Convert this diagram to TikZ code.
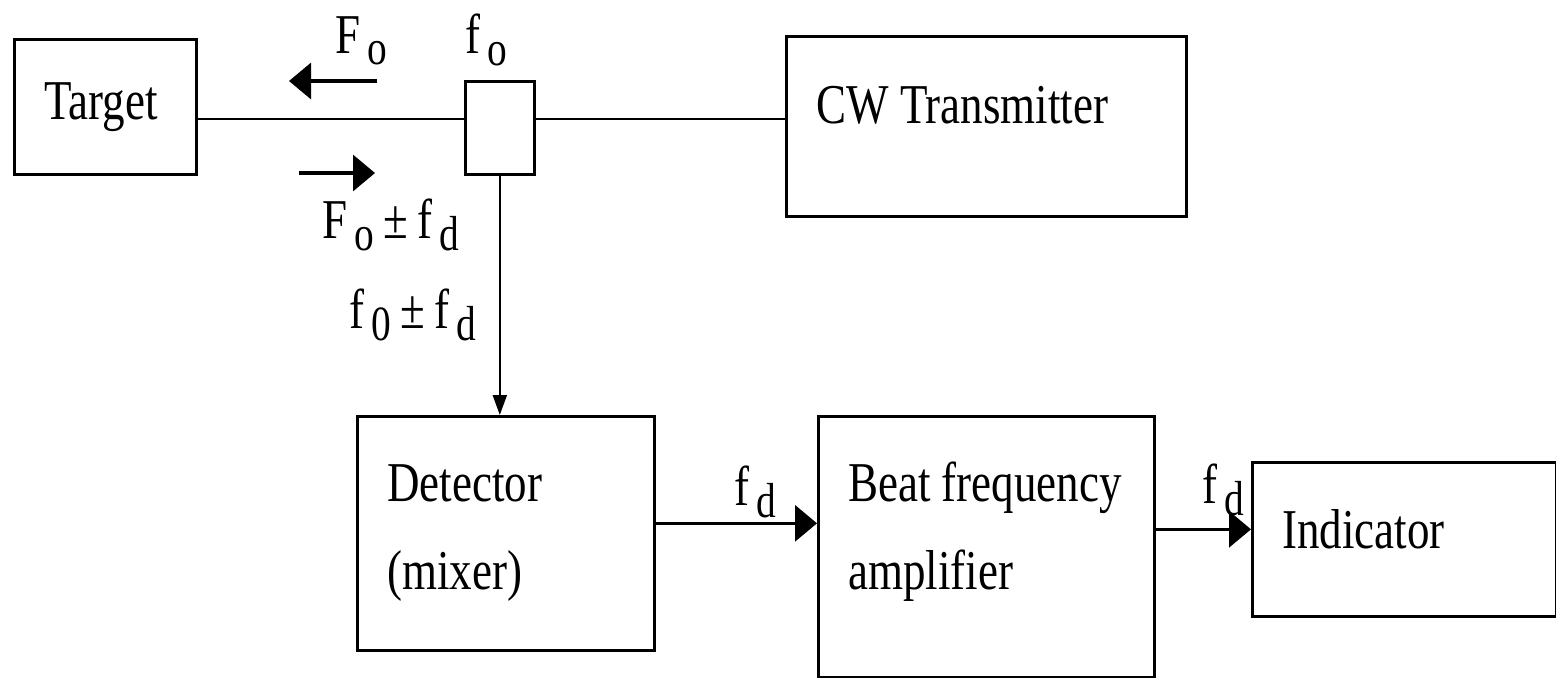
\documentclass[tikz,border=0pt]{standalone}
\usepackage{fontspec}
\setmainfont{Liberation Serif}[FakeStretch=0.8]
\usetikzlibrary{arrows.meta,positioning,calc}
\newcommand{\lowsub}[1]{\hspace{0.12em}\raisebox{-0.45ex}{\fontsize{14}{14}\selectfont #1}}

\begin{document}
\begin{tikzpicture}[
			box/.style={
				draw,
				line width=0.75pt,
				anchor=north west,
				inner xsep=0.3cm,
				align=flush left,
				font=\fontsize{16}{25}\selectfont
			},
			lbl/.style={font=\fontsize{16}{20}\selectfont,inner sep=0pt},
			wire/.style={line width=0.6pt},
			arr/.style={-{Triangle[length=2mm,width=1.4mm]},line width=0.6pt},
			sig/.style={-{Triangle[length=2.2mm,width=3.6mm]},line width=0.9pt}
			]
			\useasboundingbox (0,0) rectangle (15.56,6.77);
			\node[box,minimum height=1.35cm,text width=1.22cm](target) at (0.13,6.39){Target};
			\node[draw,line width=0.75pt,anchor=north west,minimum width=0.69cm,minimum height=0.93cm,inner sep=0pt](coupler) at (4.64,5.97){};
			\node[box,minimum height=1.8cm,text width=3.4cm,text height=0.4cm,text depth=0.46cm](cw) at (7.85,6.42){CW Transmitter};
			\node[box,minimum height=2.34cm,text width=2.37cm](det) at (3.56,2.62){Detector\\(mixer)};
			\node[box,minimum height=2.61cm,text width=2.76cm,text height=0.4cm,text depth=1.31cm](beat) at (8.17,2.62){Beat frequency\\amplifier};
			\node[box,minimum height=1.54cm,text width=2.44cm,text height=0.4cm,text depth=0.22cm](ind) at (12.51,2.16){Indicator};
			% transmission line
			\coordinate (bus) at (0,5.58);
			\draw[wire](target.east|-bus)--(coupler.west|-bus);
			\draw[wire](coupler.east|-bus)--(cw.west|-bus);
			\draw[arr](coupler.south)--(coupler.south|-det.north);
			% outgoing and returning signal
			\coordinate (outA) at (3.77,5.96);
			\coordinate (outB) at (2.89,5.96);
			\coordinate (retA) at (2.99,5.04);
			\coordinate (retB) at (3.75,5.04);
			\draw[sig](outA)--(outB);
			\draw[sig](retA)--(retB);
			\node[lbl](Fo) at (3.61,6.36){F\lowsub{o}};
			\node[lbl](fo) at (4.86,6.37){f\lowsub{o}};
			\node[lbl](Fofd) at (3.91,4.52){F\lowsub{o}\,±\,f\lowsub{d}};
			\node[lbl](fofd) at (4.13,3.62){f\lowsub{0}\,±\,f\lowsub{d}};
			% beat signal
			\draw[sig]([yshift=1mm]det.east)--([yshift=1mm]det.east-|beat.west);
			\draw[sig]([yshift=1mm]ind.west-|beat.east)--([yshift=1mm]ind.west);
			\node[lbl](fd1) at (7.55,1.85){f\lowsub{d}};
			\node[lbl](fd2) at (12.23,1.87){f\lowsub{d}};
		\end{tikzpicture}
\end{document}
